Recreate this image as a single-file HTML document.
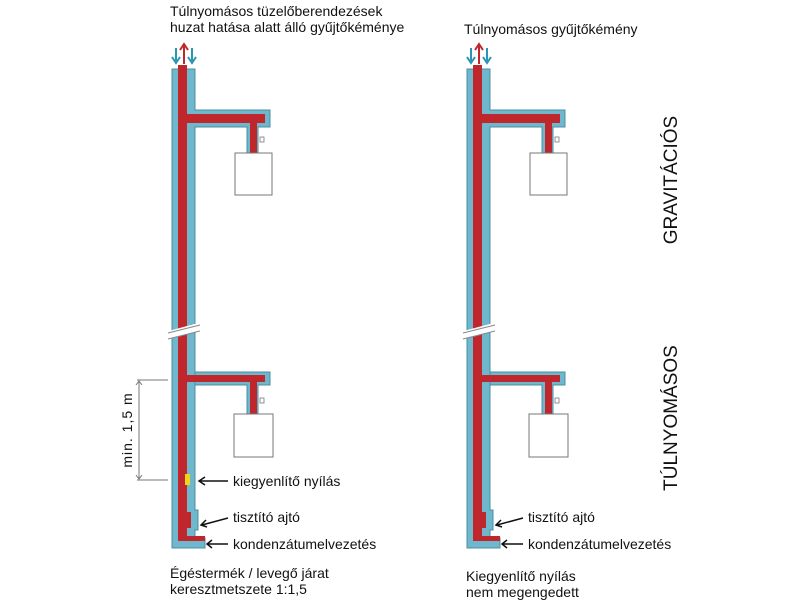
<!DOCTYPE html>
<html><head><meta charset="utf-8"><style>
html,body{margin:0;padding:0;background:#fff}
svg{display:block}
text{font-family:"Liberation Sans",sans-serif;fill:#111}
</style></head><body>
<svg width="800" height="600" viewBox="0 0 800 600" xmlns="http://www.w3.org/2000/svg">
<defs>
<g id="ch">
  <!-- blue outer -->
  <path d="M172 69 H195 V110 H270 V127 H258 V153 H247 V127 H195 V510 H198 V530 H195 V538 H205 V548 H172 Z" fill="#6fb7cc" stroke="#4a8fa5" stroke-width="1"/>
  <path d="M195 372 H270 V385 H258 V414 H247 V385 H195 Z" fill="#6fb7cc" stroke="#4a8fa5" stroke-width="1"/>
  <!-- red inner -->
  <path d="M178 65 H187 V114 H265 V123 H257 V153 H250 V123 H187 V512 H191 V528 H187 V536 H205 V541 H178 Z" fill="#c0272d"/>
  <path d="M187 375 H265 V382 H257 V414 H250 V382 H187 Z" fill="#c0272d"/>
  <!-- boxes -->
  <rect x="235" y="153" width="37" height="42" fill="#fff" stroke="#777" stroke-width="1"/>
  <rect x="234" y="414" width="39" height="43" fill="#fff" stroke="#777" stroke-width="1"/>
  <rect x="260" y="137" width="4" height="5" fill="#fff" stroke="#777" stroke-width="0.8"/>
  <rect x="260" y="398" width="4" height="5" fill="#fff" stroke="#777" stroke-width="0.8"/>
  <!-- break -->
  <rect x="165" y="327" width="38" height="8" fill="#fff" transform="rotate(-15 184 331)"/>
  <line x1="168" y1="333" x2="200" y2="325" stroke="#888" stroke-width="1"/>
  <line x1="168" y1="339" x2="200" y2="331" stroke="#888" stroke-width="1"/>
  <!-- arrows -->
  <path d="M176 48 V62 M172 57 L176 63 L180 57" stroke="#2a95b5" stroke-width="2" fill="none"/>
  <path d="M192 48 V62 M188 57 L192 63 L196 57" stroke="#2a95b5" stroke-width="2" fill="none"/>
  <path d="M184 64 V45 M180 50 L184 44 L188 50" stroke="#c0272d" stroke-width="2" fill="none"/>
  <!-- label arrows -->
  <path d="M228 518 L202 525 M206 520 L201 525 L207 527" stroke="#111" stroke-width="1.5" fill="none"/>
  <path d="M228 544 L208 544 M212 540 L207 544 L212 548" stroke="#111" stroke-width="1.5" fill="none"/>
</g>
</defs>
<use href="#ch"/>
<use href="#ch" transform="translate(295 0)"/>
<rect x="185" y="474" width="5" height="11" fill="#f2d21b"/>
<path d="M228 481 L200 481 M205 477 L199 481 L205 485" stroke="#111" stroke-width="1.5" fill="none"/>
<!-- dimension -->
<line x1="137" y1="380" x2="168" y2="380" stroke="#777"/>
<line x1="137" y1="480" x2="168" y2="480" stroke="#777"/>
<line x1="139" y1="381" x2="139" y2="479" stroke="#777"/>
<path d="M136 385 L139 381 L142 385 M136 475 L139 479 L142 475" stroke="#777" fill="none"/>
<text transform="translate(132 430) rotate(-90)" font-size="14" text-anchor="middle" letter-spacing="1">min. 1,5 m</text>
<!-- texts -->
<text x="170" y="16" font-size="14">Túlnyomásos tüzelőberendezések</text>
<text x="170" y="32" font-size="14">huzat hatása alatt álló gyűjtőkéménye</text>
<text x="464" y="34" font-size="14">Túlnyomásos gyűjtőkémény</text>
<text x="233" y="486" font-size="14">kiegyenlítő nyílás</text>
<text x="233" y="522" font-size="14">tisztító ajtó</text>
<text x="233" y="549" font-size="14">kondenzátumelvezetés</text>
<text x="528" y="522" font-size="14">tisztító ajtó</text>
<text x="528" y="549" font-size="14">kondenzátumelvezetés</text>
<text x="170" y="578" font-size="14">Égéstermék / levegő járat</text>
<text x="170" y="594" font-size="14">keresztmetszete 1:1,5</text>
<text x="466" y="581" font-size="14">Kiegyenlítő nyílás</text>
<text x="466" y="597" font-size="14">nem megengedett</text>
<text transform="translate(677 180) rotate(-90)" font-size="19" text-anchor="middle">GRAVITÁCIÓS</text>
<text transform="translate(677 418) rotate(-90)" font-size="19" text-anchor="middle">TÚLNYOMÁSOS</text>
</svg>
</body></html>
